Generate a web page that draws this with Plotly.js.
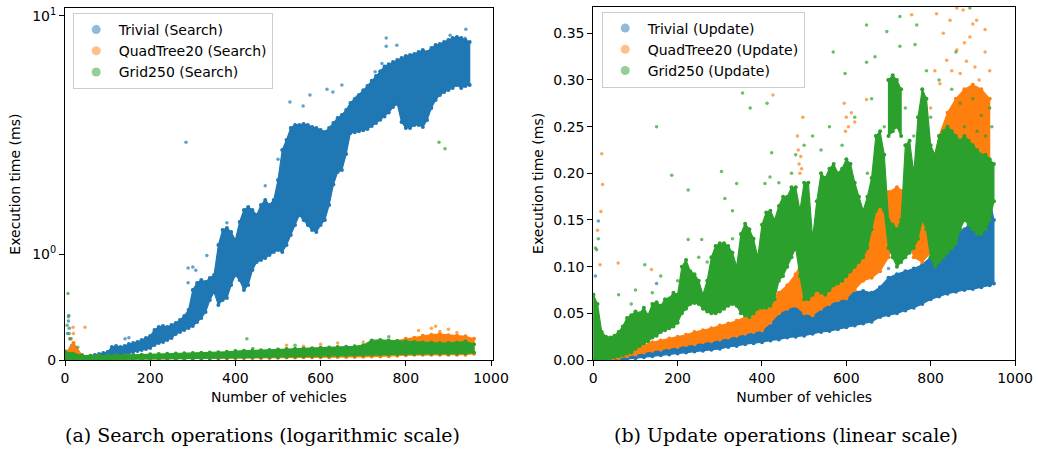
<!DOCTYPE html>
<html><head><meta charset="utf-8">
<script src="https://cdn.plot.ly/plotly-3.0.1.min.js"></script>
<style>html,body{margin:0;padding:0;background:#fff}#chart{width:1038px;height:450px}</style>
</head><body><div id="chart"></div>
<script>
// ---------- (a) Search operations: dense-cloud envelopes per vehicle-count column (ms) ----------
const trivialSearchX  = [60,70,80,90,100,110,120,130,140,150,160,170,180,190,200,210,220,230,240,250,260,270,280,290,300,310,320,330,340,350,360,370,380,390,400,410,420,430,440,450,460,470,480,490,500,510,520,530,540,550,560,570,580,590,600,610,620,630,640,650,660,670,680,690,700,710,720,730,740,750,760,770,780,790,800,810,820,830,840,850,860,870,880,890,900,910,920,930,940,950];
const trivialSearchLo = [0.009,0.009,0.019,0.019,0.019,0.028,0.028,0.028,0.047,0.066,0.076,0.085,0.095,0.104,0.114,0.142,0.161,0.170,0.189,0.208,0.246,0.265,0.284,0.303,0.322,0.360,0.397,0.454,0.568,0.644,0.521,0.568,0.587,0.710,0.804,0.757,0.662,0.710,0.852,0.927,0.946,0.965,0.994,1.022,1.041,1.022,1.088,1.183,1.278,1.372,1.325,1.278,1.230,1.211,1.278,1.325,1.467,1.660,1.779,1.798,1.950,2.420,2.440,2.470,2.500,2.540,2.630,2.730,2.840,2.950,3.100,3.310,3.435,2.763,2.570,2.570,2.664,2.664,2.600,2.831,3.273,3.605,3.830,3.971,4.068,4.168,4.323,4.168,4.271,4.323];
const trivialSearchHi = [0.038,0.047,0.057,0.066,0.076,0.123,0.132,0.123,0.132,0.151,0.161,0.170,0.189,0.208,0.227,0.284,0.312,0.322,0.312,0.331,0.350,0.379,0.416,0.473,0.662,0.729,0.757,0.738,0.776,0.804,1.088,1.230,1.249,1.211,1.136,1.306,1.420,1.448,1.420,1.372,1.467,1.514,1.467,1.514,1.703,1.987,2.221,2.570,2.664,2.664,2.697,2.664,2.600,2.570,2.508,2.450,2.570,2.729,2.900,3.007,3.195,3.480,3.650,3.830,4.050,4.270,4.550,4.820,5.100,5.400,5.550,5.710,5.852,5.995,6.142,6.216,6.292,6.447,6.605,6.447,6.767,7.015,7.102,7.276,7.455,7.638,7.731,7.638,7.455,7.276];
const trivialSearchOutX = [6,8,9,10,12,14,16,141,150,289,300,307,289,333,284,380,470,500,528,559,575,615,629,650,685,728,744,754,754,779,904,941,939];
const trivialSearchOutY = [0.25,0.37,0.42,0.30,0.20,0.12,0.14,0.20,0.21,0.87,0.88,0.85,0.73,0.99,2.16,1.30,1.65,1.90,3.52,3.35,3.83,4.10,3.97,4.32,3.74,5.07,5.60,7.64,6.90,7.00,7.90,8.50,7.60];

const quadSearchX  = [0,20,40,60,80,100,120,140,160,180,200,220,240,260,280,300,320,340,360,380,400,420,440,460,480,500,520,540,560,580,600,620,640,660,680,700,720,740,760,780,800,820,840,860,880,900,920,940,960];
const quadSearchLo = [0.000,0.000,0.004,0.006,0.007,0.008,0.009,0.010,0.011,0.011,0.012,0.012,0.013,0.013,0.014,0.015,0.015,0.016,0.016,0.017,0.018,0.018,0.019,0.019,0.020,0.022,0.023,0.024,0.025,0.025,0.026,0.027,0.028,0.028,0.029,0.030,0.032,0.034,0.035,0.040,0.045,0.050,0.050,0.050,0.050,0.050,0.050,0.050,0.060];
const quadSearchHi = [0.060,0.160,0.045,0.040,0.040,0.040,0.041,0.042,0.043,0.044,0.045,0.047,0.049,0.051,0.053,0.055,0.057,0.059,0.061,0.063,0.065,0.070,0.074,0.077,0.080,0.095,0.098,0.100,0.104,0.107,0.110,0.110,0.110,0.114,0.117,0.120,0.140,0.155,0.170,0.180,0.200,0.210,0.230,0.240,0.245,0.235,0.230,0.225,0.200];
const quadSearchOutX = [15,19,20,22,47,520,560,600,640,700,830,860,870,880,900,920];
const quadSearchOutY = [0.20,0.31,0.25,0.13,0.31,0.14,0.13,0.15,0.16,0.17,0.28,0.30,0.32,0.27,0.29,0.26];

const gridSearchX  = [0,20,40,60,80,100,120,140,160,180,200,220,240,260,280,300,320,340,360,380,400,420,440,460,480,500,520,540,560,580,600,620,640,660,680,700,720,740,760,780,800,820,840,860,880,900,920,940,960];
const gridSearchLo = [0.000,0.000,0.000,0.002,0.003,0.004,0.005,0.006,0.007,0.008,0.010,0.011,0.012,0.013,0.014,0.015,0.016,0.017,0.018,0.020,0.022,0.023,0.024,0.025,0.026,0.027,0.028,0.030,0.032,0.034,0.036,0.038,0.040,0.042,0.044,0.046,0.050,0.052,0.054,0.055,0.056,0.057,0.058,0.058,0.058,0.058,0.060,0.062,0.070];
const gridSearchHi = [0.080,0.060,0.045,0.040,0.040,0.042,0.044,0.046,0.048,0.050,0.055,0.057,0.060,0.062,0.064,0.066,0.068,0.070,0.074,0.078,0.085,0.088,0.090,0.092,0.095,0.100,0.103,0.106,0.110,0.112,0.115,0.118,0.122,0.126,0.130,0.140,0.185,0.190,0.185,0.180,0.178,0.170,0.165,0.165,0.160,0.160,0.165,0.175,0.150];
const gridSearchOutX = [5,7,8,10,12,30,427,441,540,760,878,892];
const gridSearchOutY = [0.33,0.63,0.41,0.25,0.20,0.12,0.20,0.11,0.14,0.22,2.16,2.00];

// ---------- (b) Update operations (ms) ----------
const trivialUpdateX  = [40,60,80,100,120,140,160,180,200,220,240,260,280,300,320,340,360,380,400,420,440,460,480,500,520,540,560,580,600,620,640,660,680,700,720,740,760,780,800,820,840,860,880,900,920,940,950];
const trivialUpdateLo = [0.000,0.000,0.001,0.002,0.003,0.004,0.005,0.006,0.007,0.008,0.009,0.010,0.011,0.012,0.014,0.015,0.017,0.018,0.019,0.021,0.022,0.024,0.025,0.026,0.028,0.030,0.031,0.033,0.035,0.037,0.039,0.041,0.046,0.048,0.050,0.053,0.056,0.060,0.065,0.068,0.071,0.073,0.075,0.076,0.078,0.080,0.082];
const trivialUpdateHi = [0.004,0.005,0.007,0.008,0.009,0.010,0.012,0.013,0.014,0.016,0.017,0.019,0.020,0.022,0.024,0.026,0.028,0.031,0.036,0.046,0.055,0.056,0.057,0.060,0.064,0.066,0.068,0.070,0.071,0.073,0.074,0.072,0.078,0.088,0.092,0.095,0.098,0.102,0.110,0.120,0.128,0.135,0.140,0.150,0.160,0.172,0.150];
const trivialUpdateOutX = [5,12,150,430,520,600,700,820,880,930,945];
const trivialUpdateOutY = [0.090,0.149,0.082,0.052,0.070,0.078,0.098,0.130,0.150,0.178,0.185];

const quadUpdateX  = [40,60,80,100,120,140,160,180,200,220,240,260,280,300,320,340,360,380,400,420,440,460,480,500,520,540,560,580,600,620,640,660,680,700,720,740,760,780,800,820,840,860,880,900,920,940];
const quadUpdateLo = [0.000,0.002,0.004,0.006,0.008,0.010,0.011,0.013,0.014,0.016,0.017,0.019,0.020,0.022,0.024,0.026,0.028,0.030,0.032,0.040,0.050,0.055,0.058,0.050,0.048,0.055,0.060,0.064,0.066,0.075,0.085,0.088,0.095,0.110,0.145,0.140,0.110,0.105,0.115,0.150,0.170,0.190,0.200,0.200,0.190,0.180];
const quadUpdateHi = [0.006,0.008,0.011,0.014,0.016,0.019,0.021,0.023,0.025,0.027,0.030,0.032,0.034,0.037,0.039,0.042,0.046,0.055,0.058,0.062,0.072,0.080,0.092,0.110,0.115,0.120,0.125,0.130,0.135,0.140,0.160,0.165,0.170,0.180,0.185,0.180,0.150,0.150,0.200,0.240,0.265,0.280,0.290,0.295,0.290,0.280];
const quadUpdateOutX = [10,16,18,20,22,59,138,426,484,486,488,490,492,494,497,530,538,545,595,598,600,605,612,620,648,755,800,810,814,822,830,838,846,850,862,862,870,877,880,885,893,900,905,909,915,929,929,940];
const quadUpdateOutY = [0.139,0.102,0.159,0.221,0.188,0.104,0.097,0.284,0.240,0.225,0.210,0.200,0.218,0.205,0.260,0.160,0.170,0.155,0.275,0.245,0.260,0.250,0.265,0.255,0.279,0.370,0.270,0.310,0.371,0.296,0.350,0.321,0.364,0.310,0.332,0.377,0.307,0.375,0.340,0.320,0.346,0.360,0.314,0.364,0.300,0.354,0.330,0.310];

const gridUpdateX  = [0,10,20,30,40,50,60,70,80,90,100,110,120,130,140,150,160,170,180,190,200,210,220,230,240,250,260,270,280,290,300,310,320,330,340,350,360,370,380,390,400,410,420,430,440,450,460,470,480,490,500,510,520,530,540,550,560,570,580,590,600,610,620,630,640,650,660,670,680,690,700,710,720,730,740,750,760,770,780,790,800,810,820,830,840,850,860,870,880,890,900,910,920,930,940,950];
const gridUpdateLo = [0.000,0.000,0.000,0.000,0.002,0.003,0.004,0.005,0.007,0.008,0.012,0.015,0.018,0.020,0.024,0.026,0.030,0.032,0.034,0.036,0.040,0.050,0.055,0.060,0.061,0.060,0.055,0.052,0.050,0.050,0.052,0.055,0.058,0.060,0.058,0.050,0.048,0.046,0.050,0.055,0.056,0.056,0.058,0.065,0.085,0.090,0.100,0.110,0.120,0.090,0.065,0.065,0.070,0.075,0.072,0.070,0.075,0.080,0.082,0.085,0.090,0.095,0.100,0.105,0.110,0.120,0.140,0.160,0.165,0.160,0.120,0.110,0.100,0.105,0.110,0.115,0.120,0.130,0.150,0.140,0.110,0.100,0.105,0.110,0.115,0.120,0.125,0.140,0.150,0.145,0.140,0.135,0.135,0.140,0.150,0.170];
const gridUpdateHi = [0.070,0.060,0.030,0.025,0.024,0.026,0.030,0.036,0.045,0.048,0.052,0.050,0.056,0.048,0.060,0.062,0.058,0.065,0.066,0.072,0.070,0.100,0.107,0.095,0.092,0.085,0.070,0.085,0.110,0.122,0.125,0.125,0.122,0.115,0.100,0.135,0.146,0.140,0.130,0.110,0.145,0.158,0.160,0.150,0.165,0.175,0.175,0.185,0.185,0.160,0.190,0.190,0.130,0.170,0.200,0.195,0.205,0.210,0.200,0.205,0.215,0.210,0.190,0.175,0.160,0.175,0.195,0.240,0.245,0.220,0.150,0.145,0.140,0.150,0.230,0.235,0.200,0.260,0.290,0.280,0.230,0.220,0.240,0.245,0.250,0.245,0.240,0.235,0.240,0.235,0.230,0.225,0.220,0.220,0.215,0.210];
const gridUpdateX2  = [700,710,720,730];
const gridUpdateLo2 = [0.240,0.245,0.250,0.240];
const gridUpdateHi2 = [0.300,0.305,0.300,0.290];
const gridUpdateOutX = [5,8,12,60,100,122,150,160,186,225,225,250,257,304,312,330,340,354,372,407,412,419,423,480,500,520,560,569,597,620,648,648,660,668,696,727,727,740,763,767,790,820,850,860,893,900,940,90,140,200,270,330,440,470,540,590,650,690,760,800,870,920,945,880,910,930];
const gridUpdateOutY = [0.120,0.118,0.130,0.070,0.075,0.102,0.250,0.090,0.198,0.182,0.129,0.110,0.129,0.202,0.173,0.160,0.189,0.286,0.270,0.189,0.275,0.196,0.222,0.220,0.230,0.240,0.250,0.330,0.307,0.260,0.359,0.319,0.280,0.325,0.352,0.336,0.368,0.270,0.338,0.359,0.310,0.300,0.290,0.330,0.377,0.280,0.270,0.060,0.072,0.085,0.105,0.130,0.190,0.200,0.225,0.230,0.200,0.250,0.240,0.260,0.275,0.262,0.250,0.250,0.245,0.240];

// ---------- helpers ----------
const C = {blue:'#1f77b4', orange:'#ff7f0e', green:'#2ca02c'};
function symlog(y){ const lt=2, la=1/(1-1/10); const a=Math.abs(y); if(a<=lt) return y*la; return Math.sign(y)*lt*(la+Math.log10(a/lt)); }
const ident = v => v;
// closed envelope of a dense point cloud: upper edge forward, lower edge back
function cloud(xs, lo, hi, tf, color, xa, ya){
  const X = xs.concat(xs.slice().reverse(), [xs[0]]);
  const Y = hi.map(tf).concat(lo.map(tf).reverse(), [tf(hi[0])]);
  return {x:X, y:Y, mode:'lines+markers', fill:'toself', fillcolor:color, line:{color:color, width:1.2},
          marker:{color:color, size:4}, xaxis:xa, yaxis:ya, showlegend:false, hoverinfo:'skip'};
}
function points(xs, ys, tf, color, xa, ya){
  return {x:xs, y:ys.map(tf), mode:'markers', marker:{color:color, size:3.5, opacity:0.7}, xaxis:xa, yaxis:ya, showlegend:false, hoverinfo:'skip'};
}
function key(name, color, legend, xa, ya){
  return {x:[null], y:[null], mode:'markers', name:name, marker:{color:color, size:9, opacity:0.5}, legend:legend, xaxis:xa, yaxis:ya, showlegend:true};
}

const traces = [
  cloud(trivialSearchX, trivialSearchLo, trivialSearchHi, symlog, C.blue, 'x', 'y'),
  points(trivialSearchOutX, trivialSearchOutY, symlog, C.blue, 'x', 'y'),
  cloud(quadSearchX, quadSearchLo, quadSearchHi, symlog, C.orange, 'x', 'y'),
  points(quadSearchOutX, quadSearchOutY, symlog, C.orange, 'x', 'y'),
  cloud(gridSearchX, gridSearchLo, gridSearchHi, symlog, C.green, 'x', 'y'),
  points(gridSearchOutX, gridSearchOutY, symlog, C.green, 'x', 'y'),
  key('Trivial (Search)', C.blue, 'legend', 'x', 'y'),
  key('QuadTree20 (Search)', C.orange, 'legend', 'x', 'y'),
  key('Grid250 (Search)', C.green, 'legend', 'x', 'y'),

  cloud(trivialUpdateX, trivialUpdateLo, trivialUpdateHi, ident, C.blue, 'x2', 'y2'),
  points(trivialUpdateOutX, trivialUpdateOutY, ident, C.blue, 'x2', 'y2'),
  cloud(quadUpdateX, quadUpdateLo, quadUpdateHi, ident, C.orange, 'x2', 'y2'),
  points(quadUpdateOutX, quadUpdateOutY, ident, C.orange, 'x2', 'y2'),
  cloud(gridUpdateX, gridUpdateLo, gridUpdateHi, ident, C.green, 'x2', 'y2'),
  cloud(gridUpdateX2, gridUpdateLo2, gridUpdateHi2, ident, C.green, 'x2', 'y2'),
  points(gridUpdateOutX, gridUpdateOutY, ident, C.green, 'x2', 'y2'),
  key('Trivial (Update)', C.blue, 'legend2', 'x2', 'y2'),
  key('QuadTree20 (Update)', C.orange, 'legend2', 'x2', 'y2'),
  key('Grid250 (Update)', C.green, 'legend2', 'x2', 'y2')
];

const W=1038, H=450;
const font = {family:'DejaVu Sans, sans-serif', size:14, color:'#000'};
const axBase = {showline:true, mirror:true, linecolor:'#000', linewidth:1, ticks:'outside', ticklen:5, tickwidth:1, tickcolor:'#000', showgrid:false, zeroline:false, tickfont:font};
const xTicks = [0,200,400,600,800,1000];
const legendBase = {xanchor:'left', yanchor:'top', bgcolor:'rgba(255,255,255,0.8)', bordercolor:'#cccccc', borderwidth:1, font:font, itemwidth:35};
const layout = {
  width:W, height:H, margin:{l:0,r:0,t:0,b:0}, paper_bgcolor:'#fff', plot_bgcolor:'#fff', font:font,
  xaxis: Object.assign({}, axBase, {domain:[65/W, 492.7/W], range:[0,1004], tickvals:xTicks, title:{text:'Number of vehicles', font:font, standoff:7}, anchor:'y'}),
  yaxis: Object.assign({}, axBase, {domain:[1-360/H, 1-8.3/H], range:[0, 3.698], tickvals:[symlog(0),symlog(1),symlog(10)], ticktext:['0','10<sup>0</sup>','10<sup>1</sup>'], title:{text:'Execution time (ms)', font:font, standoff:8}, anchor:'x'}),
  xaxis2: Object.assign({}, axBase, {domain:[593.3/W, 1015/W], range:[0,1000], tickvals:xTicks, title:{text:'Number of vehicles', font:font, standoff:7}, anchor:'y2'}),
  yaxis2: Object.assign({}, axBase, {domain:[1-360/H, 1-6.7/H], range:[0, 0.3785], tickvals:[0,0.05,0.10,0.15,0.20,0.25,0.30,0.35], tickformat:'.2f', title:{text:'Execution time (ms)', font:font, standoff:6}, anchor:'x2'}),
  legend: Object.assign({}, legendBase, {x:72.7/W, y:1-13/H}),
  legend2: Object.assign({}, legendBase, {x:601.7/W, y:1-11.5/H}),
  annotations: [
    {text:'(a) Search operations (logarithmic scale)', xref:'paper', yref:'paper', x:262.5/W, y:1-435/H, xanchor:'center', yanchor:'middle', showarrow:false, font:{family:'DejaVu Serif, serif', size:19, color:'#000'}},
    {text:'(b) Update operations (linear scale)', xref:'paper', yref:'paper', x:785.5/W, y:1-435/H, xanchor:'center', yanchor:'middle', showarrow:false, font:{family:'DejaVu Serif, serif', size:19, color:'#000'}}
  ]
};
Plotly.newPlot('chart', traces, layout, {staticPlot:true, displayModeBar:false});
</script></body></html>
